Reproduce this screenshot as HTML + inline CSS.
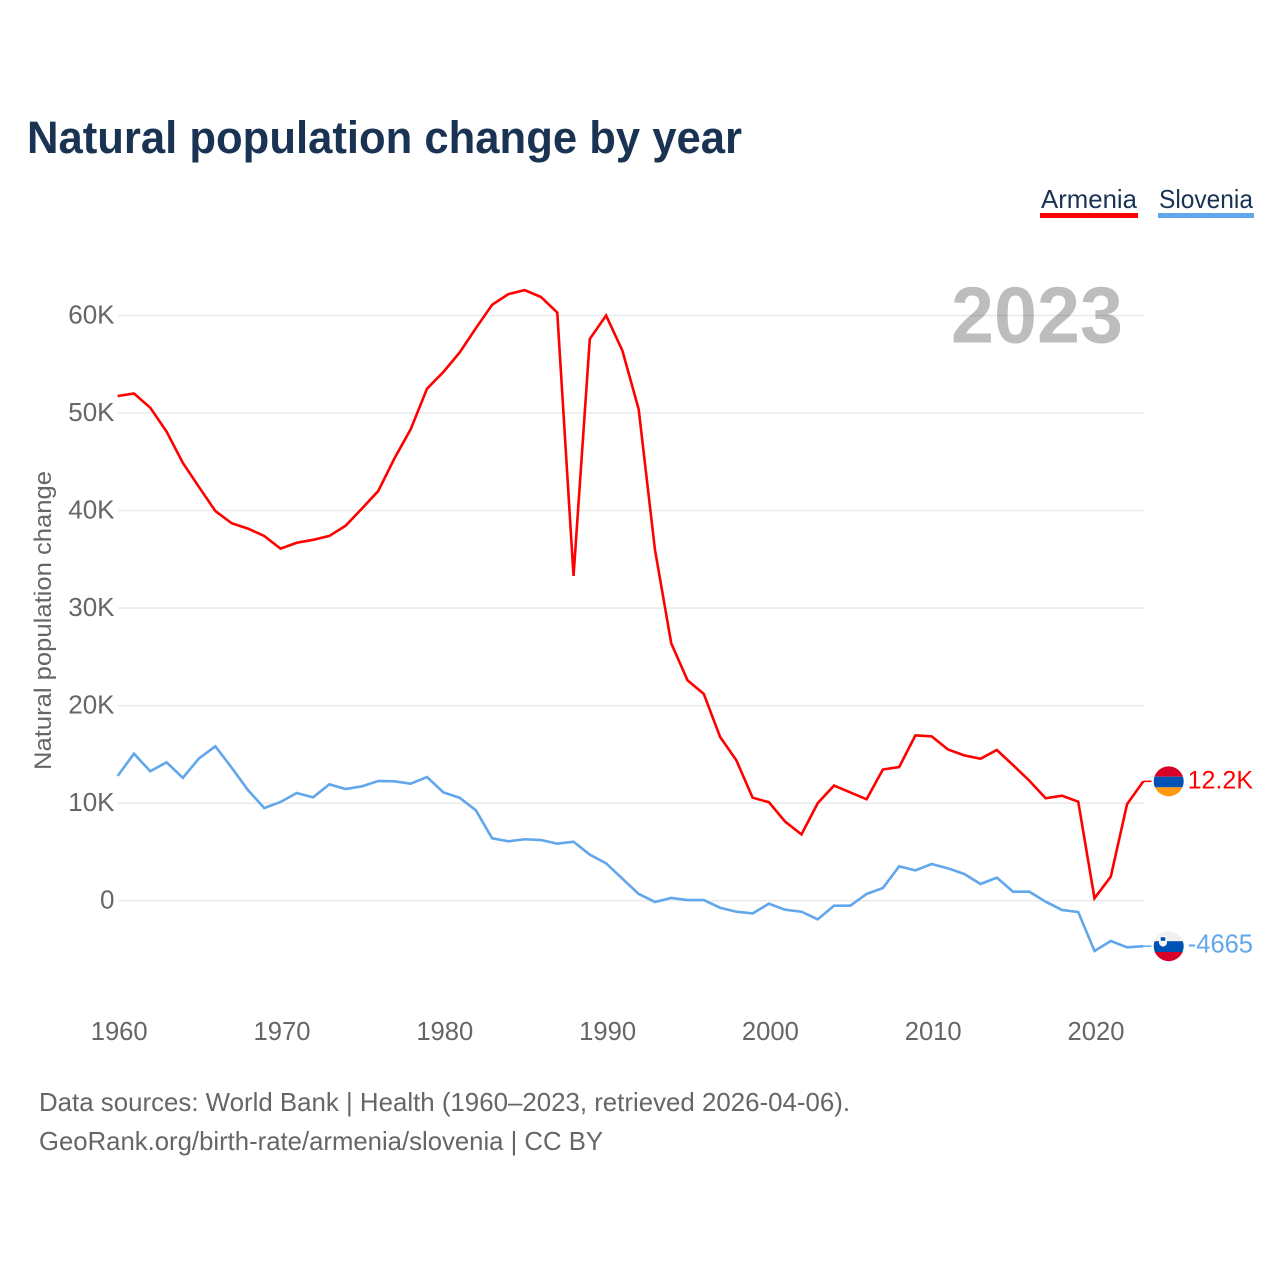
<!DOCTYPE html>
<html lang="en">
<head>
<meta charset="utf-8">
<title>Natural population change by year</title>
<style>
  html, body { margin: 0; padding: 0; background: #fff; }
  svg { display: block; font-family: "Liberation Sans", sans-serif; }
</style>
</head>
<body>
<svg id="chart" xmlns="http://www.w3.org/2000/svg" width="1280" height="1280" viewBox="0 0 1280 1280">
  <defs>
    <clipPath id="flag-clip"><circle cx="0" cy="0" r="15"></circle></clipPath>
  </defs>
  <rect x="0" y="0" width="1280" height="1280" fill="#ffffff"></rect>
  <text x="27" y="153" font-size="45" font-weight="700" fill="#1a3353" textLength="715" lengthAdjust="spacingAndGlyphs">Natural population change by year</text>

  <g>
    <text x="1041" y="208" font-size="26" fill="#1a3353" textLength="96" lengthAdjust="spacingAndGlyphs">Armenia</text>
    <rect x="1040" y="213" width="98" height="5" fill="#ff0000"></rect>
  </g>
  <g>
    <text x="1159" y="208" font-size="26" fill="#1a3353" textLength="94" lengthAdjust="spacingAndGlyphs">Slovenia</text>
    <rect x="1158" y="213" width="96" height="5" fill="#62a6ec"></rect>
  </g>

  <g id="grid"></g>
  <g id="y-labels"></g>
  <g id="x-labels"></g>
  <text id="year-label" x="1123" y="342.5" font-size="80" font-weight="700" fill="#000000" fill-opacity="0.26" text-anchor="end" textLength="172" lengthAdjust="spacingAndGlyphs"></text>
  <text transform="translate(51,770) rotate(-90)" x="0" y="0" font-size="24" fill="#666666" textLength="299" lengthAdjust="spacingAndGlyphs">Natural population change</text>
  <g id="series"></g>
  <g id="end-markers"></g>

  <text x="39" y="1111" font-size="26" fill="#666666" textLength="811" lengthAdjust="spacingAndGlyphs">Data sources: World Bank | Health (1960–2023, retrieved 2026-04-06).</text>
  <a>
    <text x="39" y="1150" font-size="26" fill="#666666" textLength="564" lengthAdjust="spacingAndGlyphs">GeoRank.org/birth-rate/armenia/slovenia | CC BY</text>
  </a>
</svg>

<script>
const years = [1960,1961,1962,1963,1964,1965,1966,1967,1968,1969,1970,1971,1972,1973,1974,1975,1976,1977,1978,1979,1980,1981,1982,1983,1984,1985,1986,1987,1988,1989,1990,1991,1992,1993,1994,1995,1996,1997,1998,1999,2000,2001,2002,2003,2004,2005,2006,2007,2008,2009,2010,2011,2012,2013,2014,2015,2016,2017,2018,2019,2020,2021,2022,2023];
const armeniaValues = [51750,52000,50550,48100,44900,42400,39950,38700,38150,37400,36100,36700,37000,37400,38450,40200,42000,45350,48350,52500,54200,56200,58700,61100,62200,62600,61900,60300,33300,57600,60000,56400,50400,36000,26400,22600,21200,16800,14400,10560,10100,8100,6800,10000,11800,11100,10400,13450,13700,16950,16850,15500,14900,14550,15450,13900,12300,10500,10770,10150,250,2460,9900,12240];
const sloveniaValues = [12800,15070,13270,14190,12600,14600,15830,13640,11350,9500,10120,11040,10600,11930,11450,11730,12270,12240,12000,12680,11110,10560,9270,6400,6090,6300,6220,5850,6050,4720,3830,2260,690,-130,280,70,70,-720,-1130,-1300,-310,-920,-1130,-1910,-510,-510,690,1300,3520,3110,3760,3320,2740,1710,2360,920,920,-100,-950,-1160,-5160,-4130,-4780,-4665];
const yTicks = [0,10000,20000,30000,40000,50000,60000];
const xTicks = [1960,1970,1980,1990,2000,2010,2020];

const SVG_NS = 'http://www.w3.org/2000/svg';
const xScale = function (year) { return 117.7 + (year - 1960) * 16.28; };
const yScale = function (value) { return 900.7 - value * 0.009753; };
const formatValue = function (value) {
  if (Math.abs(value) >= 10000) { return (value / 1000).toFixed(1).replace(/\.0$/, '') + 'K'; }
  return String(value);
};
const formatTick = function (value) {
  return value === 0 ? '0' : (value / 1000) + 'K';
};
const make = function (tag, parent, props) {
  const el = document.createElementNS(SVG_NS, tag);
  Object.keys(props).forEach(function (key) { el.setAttribute(key, props[key]); });
  parent.appendChild(el);
  return el;
};

const gridGroup = document.getElementById('grid');
const yLabelGroup = document.getElementById('y-labels');
const xLabelGroup = document.getElementById('x-labels');
const seriesGroup = document.getElementById('series');
const markerGroup = document.getElementById('end-markers');

yTicks.forEach(function (tick) {
  const y = yScale(tick);
  const line = make('line', gridGroup, { x1: 118, x2: 1144, y1: y, y2: y, stroke: '#ebebeb', 'stroke-width': 1.6 });
  
  
  const label = make('text', yLabelGroup, { x: 114.5, y: y + 8, 'font-size': 26, fill: '#666666', 'text-anchor': 'end' });
  
  
  label.textContent = formatTick(tick);
});

xTicks.forEach(function (tick) {
  const label = make('text', xLabelGroup, { x: xScale(tick) + 1.5, y: 1040, 'font-size': 25.6, fill: '#666666', 'text-anchor': 'middle' });
  
  
  label.textContent = String(tick);
});

document.getElementById('year-label').textContent = String(years[years.length - 1]);

const linePoints = function (values) {
  return values.map(function (value, i) {
    return xScale(years[i]).toFixed(2) + ',' + yScale(value).toFixed(2);
  }).join(' ');
};

const armeniaLine = make('polyline', seriesGroup, { points: linePoints(armeniaValues), fill: 'none', stroke: '#ff0000', 'stroke-width': 2.6, 'stroke-linejoin': 'miter' });



const sloveniaLine = make('polyline', seriesGroup, { points: linePoints(sloveniaValues), fill: 'none', stroke: '#62a6ec', 'stroke-width': 2.6, 'stroke-linejoin': 'miter' });



const lastX = xScale(years[years.length - 1]);
const armeniaY = yScale(armeniaValues[armeniaValues.length - 1]);
const sloveniaY = yScale(sloveniaValues[sloveniaValues.length - 1]);

const armeniaLink = make('line', markerGroup, { x1: lastX, x2: 1151.5, y1: armeniaY, y2: armeniaY, stroke: '#ff0000', 'stroke-width': 1.5 });



const sloveniaLink = make('line', markerGroup, { x1: lastX, x2: 1151.5, y1: sloveniaY, y2: sloveniaY, stroke: '#62a6ec', 'stroke-width': 1.5 });



const armeniaFlag = make('g', markerGroup, { transform: 'translate(1168.7,' + armeniaY.toFixed(2) + ')', 'clip-path': 'url(#flag-clip)' });


make('rect', armeniaFlag, { x: -16, y: -16, width: 32, height: 11.4, fill: '#d80027' });
make('rect', armeniaFlag, { x: -16, y: -4.6, width: 32, height: 10.6, fill: '#0052b4' });
make('rect', armeniaFlag, { x: -16, y: 6, width: 32, height: 11, fill: '#ff9811' });

const sloveniaFlag = make('g', markerGroup, { transform: 'translate(1168.7,' + sloveniaY.toFixed(2) + ')', 'clip-path': 'url(#flag-clip)' });


make('rect', sloveniaFlag, { x: -16, y: -16, width: 32, height: 11, fill: '#f0f0f0' });
make('rect', sloveniaFlag, { x: -16, y: -5, width: 32, height: 10.8, fill: '#0052b4' });
make('rect', sloveniaFlag, { x: -16, y: 5.8, width: 32, height: 11, fill: '#d80027' });
make('path', sloveniaFlag, { d: 'M-9.7,-10 H-1.7 V-3.5 Q-1.7,-0.8 -5.7,0.6 Q-9.7,-0.8 -9.7,-3.5 Z', fill: '#f8f8f8' });
make('rect', sloveniaFlag, { x: -8, y: -9, width: 4.6, height: 3.6, fill: '#0052b4' });

const armeniaEnd = make('text', markerGroup, { x: 1253, y: armeniaY + 7, 'font-size': 25, fill: '#ff0000', 'text-anchor': 'end' });


armeniaEnd.textContent = formatValue(armeniaValues[armeniaValues.length - 1]);

const sloveniaEnd = make('text', markerGroup, { x: 1253, y: sloveniaY + 6.4, 'font-size': 25.5, fill: '#62a6ec', 'text-anchor': 'end' });


sloveniaEnd.textContent = formatValue(sloveniaValues[sloveniaValues.length - 1]);
</script>
</body>
</html>
